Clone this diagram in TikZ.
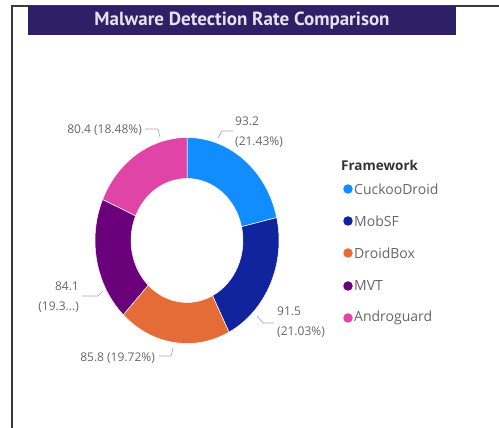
\documentclass[tikz,border=0pt]{standalone}
\usepackage{fontspec}
\setmainfont{Open Sans}
\newfontfamily\titlefont{PT Sans}
\definecolor{cCuckoo}{HTML}{118DFF}
\definecolor{cMob}{HTML}{12239E}
\definecolor{cDroid}{HTML}{E66C37}
\definecolor{cMVT}{HTML}{6B007B}
\definecolor{cAndro}{HTML}{E044A7}
\definecolor{titlebg}{HTML}{2E2066}
\definecolor{titlefg}{HTML}{E6E3F0}
\definecolor{lblgray}{HTML}{666666}
\definecolor{leadgray}{HTML}{A8A8A8}
\definecolor{framegray}{HTML}{3A3A3A}
\definecolor{legdark}{HTML}{333333}
\tikzset{
  seg/.style={draw=white, line width=0.5pt},
  lbl/.style={font=\fontsize{12}{19.5}\selectfont, text=lblgray, inner sep=0pt},
  leader/.style={draw=leadgray, line width=0.7pt},
  legtxt/.style={font=\fontsize{14}{16}\selectfont, text=lblgray, inner sep=0pt, anchor=west},
  legdot/.style={circle, minimum size=9.5pt, inner sep=0pt},
}
\newcommand{\donutseg}[3]{%
  \fill[#3, seg] (#1:92 and 103) arc[start angle=#1, end angle=#2, x radius=92, y radius=103]
    -- (#2:56 and 62) arc[start angle=#2, end angle=#1, x radius=56, y radius=62] -- cycle;}
\begin{document}
\begin{tikzpicture}[x=1pt,y=1pt]
\useasboundingbox (0,0) rectangle (499,428);
% frame
\draw[framegray, line width=1.3pt] (12,0) -- (12,422) -- (499,422);
% title
\node[fill=titlebg, minimum width=428pt, minimum height=29pt, inner sep=0pt,
      text=titlefg, font=\titlefont\bfseries\fontsize{19}{20}\selectfont]
      (title) at (242,407.5) {Malware Detection Rate Comparison};
% donut
\begin{scope}[shift={(187,187.5)}]
  \donutseg{90}{12.85}{cCuckoo}
  \donutseg{12.85}{-62.86}{cMob}
  \donutseg{-62.86}{-133.85}{cDroid}
  \donutseg{-133.85}{-203.47}{cMVT}
  \donutseg{-203.47}{-270}{cAndro}
\end{scope}
% labels
\node[lbl, anchor=west, align=left] (l1) at (235,296) {93.2\\(21.43\%)};
\node[lbl, anchor=east] (l2) at (142,298) {80.4 (18.48\%)};
\node[lbl, anchor=east, align=right] (l3) at (79,131) {84.1\\(19.3...)};
\node[lbl, anchor=west, align=left] (l4) at (277,106) {91.5\\(21.03\%)};
\node[lbl, anchor=east] (l5) at (155,70) {85.8 (19.72\%)};
% leader points
\coordinate (a1) at (218,290); \coordinate (b1) at (222,297); \coordinate (e1) at (233,297);
\coordinate (a2) at (160,291); \coordinate (b2) at (158,299); \coordinate (e2) at (145,299);
\coordinate (a3) at (103,137); \coordinate (b3) at (98,132); \coordinate (e3) at (82,132);
\coordinate (a4) at (257,112); \coordinate (b4) at (263,105); \coordinate (e4) at (274,105);
\coordinate (a5) at (173,80); \coordinate (b5) at (171,72); \coordinate (e5) at (159,72);
\draw[leader] (a1) -- (b1) -- (e1);
\draw[leader] (a2) -- (b2) -- (e2);
\draw[leader] (a3) -- (b3) -- (e3);
\draw[leader] (a4) -- (b4) -- (e4);
\draw[leader] (a5) -- (b5) -- (e5);
% legend
\node[anchor=west, inner sep=0pt, text=legdark, font=\bfseries\fontsize{13.5}{15}\selectfont] (lgt) at (341,263) {Framework};
\node[legdot, fill=cCuckoo] (d1) at (348,239) {};
\node[legtxt] (t1) at (354,239) {CuckooDroid};
\node[legdot, fill=cMob] (d2) at (348,207) {};
\node[legtxt] (t2) at (354,207) {MobSF};
\node[legdot, fill=cDroid] (d3) at (348,175) {};
\node[legtxt] (t3) at (354,175) {DroidBox};
\node[legdot, fill=cMVT] (d4) at (348,142) {};
\node[legtxt] (t4) at (354,142) {MVT};
\node[legdot, fill=cAndro] (d5) at (348,110) {};
\node[legtxt] (t5) at (354,110) {Androguard};
\end{tikzpicture}
\end{document}
